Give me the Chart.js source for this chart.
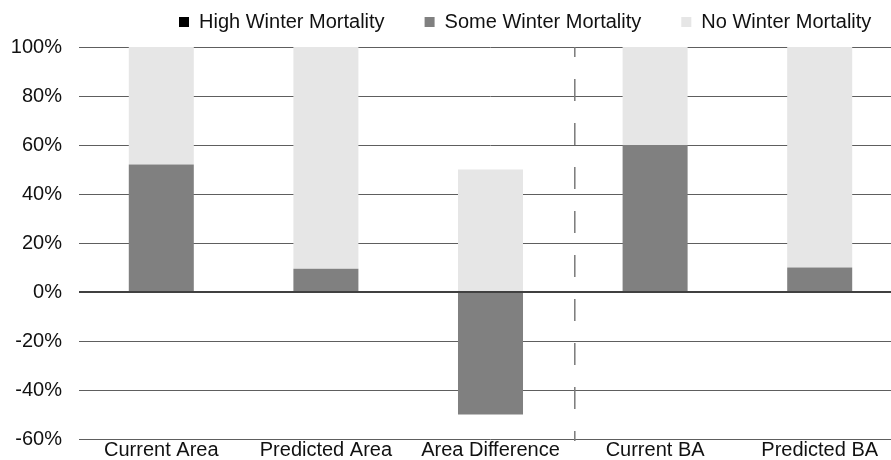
<!DOCTYPE html>
<html>
<head>
<meta charset="utf-8">
<script src="https://cdn.jsdelivr.net/npm/chart.js@4.4.1/dist/chart.umd.min.js"></script>
<style>
  html, body { margin: 0; padding: 0; background: #fff; overflow: hidden; }
  #wrap { width: 902px; height: 460px; position: relative; }
</style>
</head>
<body>
<div id="wrap"><canvas id="c"></canvas></div>
<script>
const categories = ['Current Area', 'Predicted Area', 'Area Difference', 'Current BA', 'Predicted BA'];
const highWinterMortality = [0, 0, 0, 0, 0];
const someWinterMortality = [52, 9.5, -50, 60, 10];
const noWinterMortality = [48, 90.5, 50, 40, 90];
const yTicks = [-60, -40, -20, 0, 20, 40, 60, 80, 100];

const FONT = "'Liberation Sans', Arial, sans-serif";
const LEGEND_PAD = 40;

const dividerPlugin = {
  id: 'divider',
  afterDatasetsDraw(chart) {
    const x = chart.scales.x;
    const area = chart.chartArea;
    const px = (x.getPixelForValue(2) + x.getPixelForValue(3)) / 2 + 2;
    const ctx = chart.ctx;
    ctx.save();
    ctx.strokeStyle = '#7a7a7a';
    ctx.lineWidth = 1.5;
    ctx.setLineDash([22, 22]);
    ctx.lineDashOffset = 12;
    ctx.beginPath();
    ctx.moveTo(px, area.top);
    ctx.lineTo(px, area.bottom + 2);
    ctx.stroke();
    ctx.restore();
  }
};

// keep the legend compact in height and place it like the reference
const legendPlace = {
  id: 'legendPlace',
  beforeLayout(chart) {
    const lg = chart.legend;
    if (lg && !lg._wrappedFit) {
      const orig = lg.fit.bind(lg);
      lg.fit = function () { orig(); if (this.isHorizontal()) this.height = 47; };
      lg._wrappedFit = true;
    }
  },
  afterUpdate(chart) {
    const lg = chart.legend;
    if (!lg || !lg.legendHitBoxes || !lg.legendHitBoxes.length) return;
    const dx = 179 - lg.legendHitBoxes[0].left;
    lg.left += dx;
    lg.right += dx;
    lg.top = 12 - LEGEND_PAD;
    lg.adjustHitBoxes();
  }
};

new Chart(document.getElementById('c'), {
  type: 'bar',
  data: {
    labels: categories,
    datasets: [
      { label: 'High Winter Mortality', data: highWinterMortality, backgroundColor: '#000000' },
      { label: 'Some Winter Mortality', data: someWinterMortality, backgroundColor: '#808080' },
      { label: 'No Winter Mortality', data: noWinterMortality, backgroundColor: '#e6e6e6' }
    ]
  },
  options: {
    responsive: true,
    maintainAspectRatio: false,
    animation: false,
    layout: { padding: { left: 11, right: 0, top: 0, bottom: 0 } },
    datasets: { bar: { categoryPercentage: 1, barPercentage: 0.395 } },
    plugins: {
      legend: {
        position: 'top',
        align: 'center',
        labels: {
          boxWidth: 10, boxHeight: 10, padding: LEGEND_PAD,
          color: '#111',
          font: { family: FONT, size: 20 }
        }
      },
      tooltip: { enabled: false }
    },
    scales: {
      x: {
        stacked: true,
        afterFit(scale) { scale.height = 21; },
        grid: { display: false, drawTicks: false },
        border: { display: false },
        ticks: { color: '#111', font: { family: FONT, size: 20, lineHeight: 1 }, padding: 1, maxRotation: 0 }
      },
      y: {
        stacked: true,
        min: -60, max: 100,
        afterBuildTicks(scale) { scale.ticks = yTicks.map(v => ({ value: v })); },
        afterFit(scale) { scale.width = 68; scale.paddingBottom = 0; scale.paddingTop = 0; },
        grid: {
          drawTicks: false,
          color: ctx => ctx.tick && ctx.tick.value === 0 ? '#404040' : '#5e5e5e',
          lineWidth: ctx => ctx.tick && ctx.tick.value === 0 ? 2 : 1
        },
        border: { display: false },
        ticks: {
          color: '#111', font: { family: FONT, size: 20 }, padding: 17,
          callback: v => v + '%'
        }
      }
    }
  },
  plugins: [dividerPlugin, legendPlace]
});
</script>
</body>
</html>
